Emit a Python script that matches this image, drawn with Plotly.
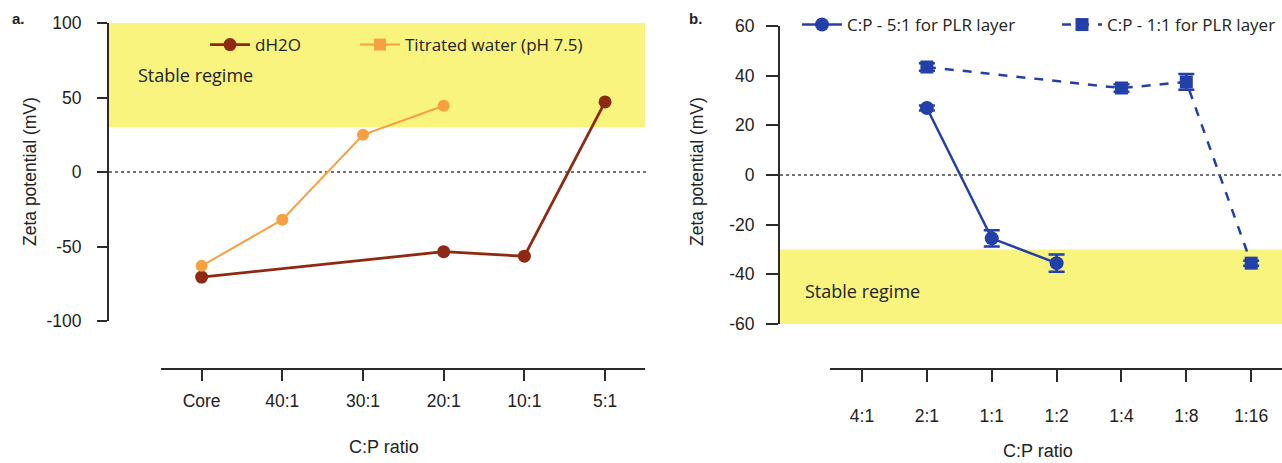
import plotly.graph_objects as go

W, H = 1282, 463
def px(x): return x / W
def py(y): return 1 - y / H

# ---- data panel a ----
cats_a = ["Core", "40:1", "30:1", "20:1", "10:1", "5:1"]
dh2o_x = ["Core", "20:1", "10:1", "5:1"]
dh2o_y = [-70.5, -53.5, -56.5, 47]
tit_x = ["Core", "40:1", "30:1", "20:1"]
tit_y = [-63, -32, 25, 44.5]
yticks_a = [-100, -50, 0, 50, 100]
yticktext_a = ["-100", "-50", "0", "50", "100"]

# ---- data panel b ----
cats_b = ["4:1", "2:1", "1:1", "1:2", "1:4", "1:8", "1:16"]
s51_x = ["2:1", "1:1", "1:2"]
s51_y = [27, -25.5, -35.5]
s51_err = [1, 3.3, 3.5]
s11_x = ["2:1", "1:4", "1:8", "1:16"]
s11_y = [43.5, 35, 37.5, -35.5]
s11_err = [1.5, 1.5, 3.2, 1]
yticks_b = [-60, -40, -20, 0, 20, 40, 60]
yticktext_b = ["-60", "-40", "-20", "0", "20", "40", "60"]

RED = "#8E2A12"
ORANGE = "#F7A040"
BLUE = "#2340A8"
YELLOW = "#F8F47E"
AX = "#2b2b2b"
TICKFONT = dict(family="Liberation Sans, Arial", size=17.5, color="#222")
TITLEFONT = dict(family="Liberation Sans, Arial", size=17.5, color="#222")
MFONT = dict(family="Open Sans, Lato", size=18, color="#222")
LFONT = dict(family="Open Sans, Lato", size=17, color="#222")

fig = go.Figure()

# panel a traces
fig.add_trace(go.Scatter(x=dh2o_x, y=dh2o_y, mode="lines+markers", name="dH2O",
                         line=dict(color=RED, width=2.8), marker=dict(size=13, color=RED),
                         xaxis="x", yaxis="y", legend="legend"))
fig.add_trace(go.Scatter(x=tit_x, y=tit_y, mode="lines+markers", name="Titrated water (pH 7.5)",
                         line=dict(color=ORANGE, width=2), marker=dict(size=12, color=ORANGE),
                         xaxis="x", yaxis="y", showlegend=False))
fig.add_trace(go.Scatter(x=[None], y=[None], mode="lines+markers", name="Titrated water (pH 7.5)",
                         line=dict(color=ORANGE, width=2), marker=dict(size=12, color=ORANGE, symbol="square"),
                         xaxis="x", yaxis="y", legend="legend2"))

# panel b traces
fig.add_trace(go.Scatter(x=s51_x, y=s51_y, mode="lines+markers", name="C:P - 5:1 for PLR layer",
                         line=dict(color=BLUE, width=2.5), marker=dict(size=14, color=BLUE),
                         error_y=dict(type="data", array=s51_err, color=BLUE, thickness=2.5, width=8),
                         xaxis="x2", yaxis="y2", legend="legend3"))
fig.add_trace(go.Scatter(x=s11_x, y=s11_y, mode="lines+markers", name="C:P - 1:1 for PLR layer",
                         line=dict(color=BLUE, width=2.5, dash="dash"),
                         marker=dict(size=13, color=BLUE, symbol="square"),
                         error_y=dict(type="data", array=s11_err, color=BLUE, thickness=2.5, width=8),
                         xaxis="x2", yaxis="y2", legend="legend4"))

axis_common = dict(showgrid=False, zeroline=False, showline=True, linecolor=AX, linewidth=2,
                   ticks="outside", tickwidth=2, tickcolor=AX, tickfont=TICKFONT)

def leg(xpix, ypix):
    return dict(orientation="h", x=px(xpix), y=py(ypix), xanchor="left", yanchor="middle",
                font=LFONT, bgcolor="rgba(0,0,0,0)", itemwidth=40)

fig.update_layout(
    width=W, height=H, margin=dict(l=0, r=0, t=0, b=0, autoexpand=False),
    plot_bgcolor="white", paper_bgcolor="white",
    xaxis=dict(domain=[px(161.3), px(645.4)], anchor="free", position=py(369),
               type="category", categoryarray=cats_a, categoryorder="array",
               range=[-0.5, 5.5], ticklen=11, ticklabelstandoff=5, **axis_common),
    yaxis=dict(domain=[py(321), py(23)], anchor="free", position=px(108),
               range=[-100, 100], tickvals=yticks_a, ticktext=yticktext_a,
               ticklen=10, ticklabelstandoff=12, **axis_common),
    xaxis2=dict(domain=[px(829.6), 1.0], anchor="free", position=py(369),
                type="category", categoryarray=cats_b, categoryorder="array",
                range=[-0.5, -0.5 + 7 * (1282 - 829.6) / (1283.6 - 829.6)],
                ticklen=12, ticklabelstandoff=19, **axis_common),
    yaxis2=dict(domain=[py(324), py(26)], anchor="free", position=px(779),
                range=[-60, 60], tickvals=yticks_b, ticktext=yticktext_b,
                ticklen=12, ticklabelstandoff=8, **axis_common),
    legend=leg(205, 45),
    legend2=leg(355, 45),
    legend3=leg(797, 25),
    legend4=leg(1057, 25),
)

shapes = [
    # yellow bands
    dict(type="rect", xref="paper", yref="y", x0=px(109), x1=px(645), y0=30, y1=100,
         fillcolor=YELLOW, line=dict(width=0), layer="below"),
    dict(type="rect", xref="paper", yref="y2", x0=px(780), x1=1.0, y0=-61, y1=-30,
         fillcolor=YELLOW, line=dict(width=0), layer="below"),
    # zero dotted lines
    dict(type="line", xref="paper", yref="y", x0=px(109), x1=px(647), y0=0, y1=0,
         line=dict(color="#444", width=1.5, dash="dot"), layer="below"),
    dict(type="line", xref="paper", yref="y2", x0=px(780), x1=1.0, y0=0, y1=0,
         line=dict(color="#444", width=1.5, dash="dot"), layer="below"),
]
fig.update_layout(shapes=shapes)

annotations = [
    dict(text="<b>a.</b>", x=px(10), y=py(18), xref="paper", yref="paper", showarrow=False,
         xanchor="left", yanchor="middle", font=dict(family="Liberation Sans", size=15, color="#222")),
    dict(text="<b>b.</b>", x=px(687), y=py(18), xref="paper", yref="paper", showarrow=False,
         xanchor="left", yanchor="middle", font=dict(family="Liberation Sans", size=15, color="#222")),
    dict(text="Stable regime", x=px(136), y=py(75), xref="paper", yref="paper", showarrow=False,
         xanchor="left", yanchor="middle", font=MFONT),
    dict(text="Stable regime", x=px(803), y=py(291), xref="paper", yref="paper", showarrow=False,
         xanchor="left", yanchor="middle", font=MFONT),
    dict(text="Zeta potential (mV)", x=px(30), y=py(172), xref="paper", yref="paper", showarrow=False,
         textangle=-90, xanchor="center", yanchor="middle", font=TITLEFONT),
    dict(text="Zeta potential (mV)", x=px(697), y=py(172), xref="paper", yref="paper", showarrow=False,
         textangle=-90, xanchor="center", yanchor="middle", font=TITLEFONT),
    dict(text="C:P ratio", x=px(384), y=py(447), xref="paper", yref="paper", showarrow=False,
         xanchor="center", yanchor="middle", font=dict(family="Liberation Sans, Arial", size=18, color="#222")),
    dict(text="C:P ratio", x=px(1038), y=py(451), xref="paper", yref="paper", showarrow=False,
         xanchor="center", yanchor="middle", font=dict(family="Liberation Sans, Arial", size=18, color="#222")),
]
fig.update_layout(annotations=annotations)

fig.write_html("out.html", config={"displayModeBar": False},
               post_script="document.body.style.margin='0px';document.body.style.overflow='hidden';")
